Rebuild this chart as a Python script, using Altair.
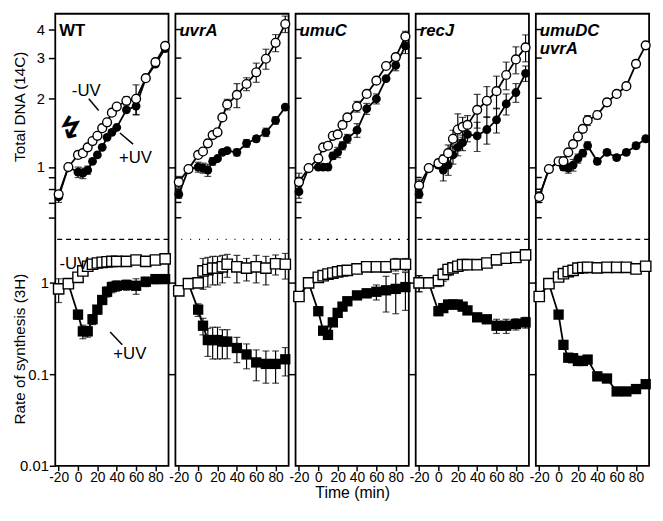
import altair as alt
import pandas as pd

FONT = "Liberation Sans"

# ---------------- data ----------------
TIMES = [-20, -10, 0, 5, 10, 15, 20, 25, 30, 35, 40, 50, 60, 70, 80, 90]
N = None

PANEL_NAMES = ["WT", "uvrA", "umuC", "recJ", "umuDC\nuvrA"]
PANEL_ITALIC = [False, True, True, True, True]

# Total DNA (14C): -UV (open circles) and +UV (filled circles), with +/- error
top_open = [
    [0.76, 1.0, 1.13, 1.15, 1.22, 1.30, 1.37, 1.48, 1.57, 1.73, 1.84, 1.95, 1.99, 2.45, 2.88, 3.39],
    [0.86, 0.98, 1.13, 1.17, 1.27, 1.38, 1.42, 1.65, 1.88, N, 2.07, 2.31, 2.60, 2.98, 3.50, 4.23],
    [0.86, 0.99, 1.09, 1.22, 1.24, 1.37, 1.39, 1.53, 1.65, N, 1.84, 2.09, 2.39, 2.77, 3.03, 3.73],
    [0.83, 0.99, 1.04, 1.08, 1.15, 1.33, 1.46, 1.50, 1.53, N, 1.78, 1.95, 2.15, 2.53, 2.96, 3.34],
    [0.74, 0.98, 1.06, 1.06, 1.16, 1.26, 1.36, 1.47, 1.60, N, 1.69, 1.92, 2.09, 2.26, 2.83, 3.41],
]
top_open_err = [
    [0, 0, 0.04, 0, 0, 0, 0, 0, 0, 0, 0, 0.08, 0.30, 0.06, 0.05, 0.05],
    [0.05, 0, 0, 0, 0, 0, 0, 0, 0.10, N, 0.25, 0.15, 0.25, 0.30, 0.30, 0.35],
    [0.08, 0, 0.04, 0, 0, 0, 0, 0.04, 0, N, 0.10, 0.05, 0, 0.05, 0.10, 0.20],
    [0.05, 0, 0.04, 0.05, 0.10, 0.12, 0.25, 0.15, 0.15, N, 0.30, 0.30, 0.35, 0.35, 0.40, 0.45],
    [0, 0, 0, 0.05, 0, 0, 0, 0, 0.08, N, 0.07, 0.06, 0, 0.05, 0.10, 0.08],
]
top_fill = [
    [0.74, 1.0, 0.95, 0.94, 0.97, 1.06, 1.13, 1.22, 1.35, 1.42, 1.49, 1.78, 1.85, 2.45, 2.82, 3.30],
    [0.76, 0.98, 1.0, 0.99, 0.97, 1.06, 1.09, 1.16, 1.18, N, 1.16, 1.27, 1.33, 1.42, 1.60, 1.83],
    [0.78, 0.99, 1.0, 1.0, 1.0, 1.12, 1.16, 1.24, 1.33, N, 1.45, 1.80, 1.99, 2.44, 2.79, 3.39],
    [0.76, 0.99, 1.02, 0.97, 1.02, 1.13, 1.22, 1.28, 1.39, N, 1.37, 1.46, 1.61, 1.89, 2.12, 2.57],
    [0.74, 0.98, 1.06, 1.0, 0.99, 1.02, 1.09, 1.15, 1.24, N, 1.06, 1.16, 1.10, 1.16, 1.24, 1.33],
]
top_fill_err = [
    [0.04, 0, 0.05, 0.05, 0.04, 0, 0, 0, 0, 0, 0, 0, 0.15, 0.05, 0.05, 0.04],
    [0.03, 0, 0.05, 0.05, 0.06, 0.04, 0, 0, 0, N, 0.04, 0.05, 0.04, 0.06, 0.06, 0.05],
    [0.05, 0, 0, 0, 0.03, 0.04, 0.06, 0.05, 0.06, N, 0.10, 0.10, 0.10, 0.05, 0.15, 0.25],
    [0.03, 0, 0.03, 0.10, 0.10, 0.10, 0.10, 0.10, 0.10, N, 0.20, 0.20, 0.20, 0.20, 0.20, 0.20],
    [0.04, 0, 0, 0.03, 0.05, 0.06, 0.05, 0.04, 0.05, N, 0.03, 0.03, 0.03, 0.03, 0.04, 0.04],
]

# Rate of synthesis (3H): -UV (open squares) and +UV (filled squares)
bot_open = [
    [0.86, 0.98, 1.15, 1.35, 1.52, 1.60, 1.65, 1.68, 1.70, 1.72, 1.72, 1.72, 1.78, 1.72, 1.78, 1.83],
    [0.82, 0.98, 1.0, 1.35, 1.40, 1.45, 1.45, 1.50, 1.60, N, 1.50, 1.45, 1.50, 1.45, 1.62, 1.60],
    [0.71, 1.0, 1.15, 1.20, 1.25, 1.28, 1.32, 1.35, 1.37, N, 1.42, 1.50, 1.50, 1.50, 1.60, 1.60],
    [1.0, 1.0, 1.06, 1.24, 1.40, 1.46, 1.52, 1.58, 1.58, N, 1.58, 1.65, 1.79, 1.86, 1.90, 2.02],
    [0.71, 0.98, 1.16, 1.26, 1.33, 1.37, 1.45, 1.47, 1.48, N, 1.46, 1.48, 1.48, 1.48, 1.42, 1.52],
]
bot_open_err = [
    [0, 0, 0.10, 0.10, 0.08, 0.05, 0, 0, 0, 0, 0, 0, 0.05, 0, 0, 0.05],
    [0, 0, 0.10, 0.50, 0.50, 0.50, 0.50, 0.50, 0.45, N, 0.50, 0.40, 0.50, 0.50, 0.40, 0.50],
    [0, 0, 0, 0, 0, 0, 0, 0, 0, N, 0, 0.10, 0.15, 0.20, 0.25, 0.25],
    [0.20, 0, 0.15, 0.20, 0.20, 0.15, 0.10, 0.10, 0.05, N, 0.05, 0.05, 0.05, 0.05, 0.05, 0.05],
    [0, 0, 0, 0, 0, 0, 0, 0, 0, N, 0, 0, 0, 0, 0.08, 0],
]
bot_fill = [
    [0.86, 0.98, 0.45, 0.295, 0.295, 0.40, 0.51, 0.65, 0.80, 0.90, 0.93, 0.95, 0.93, 1.03, 1.10, 1.10],
    [0.82, 0.98, 0.51, 0.34, 0.237, 0.237, 0.237, 0.228, 0.228, N, 0.194, 0.165, 0.135, 0.13, 0.13, 0.146],
    [0.71, 1.0, 0.49, 0.30, 0.27, 0.37, 0.47, 0.55, 0.63, N, 0.73, 0.77, 0.80, 0.83, 0.86, 0.90],
    [1.0, 1.0, 0.49, 0.53, 0.58, 0.58, 0.58, 0.55, 0.50, N, 0.42, 0.40, 0.34, 0.34, 0.355, 0.37],
    [0.71, 0.98, 0.45, 0.21, 0.152, 0.15, 0.14, 0.14, 0.145, N, 0.095, 0.09, 0.065, 0.065, 0.069, 0.078],
]
bot_fill_err = [
    [0.25, 0, 0.05, 0.05, 0.04, 0.05, 0.05, 0.05, 0.10, 0.12, 0.12, 0.12, 0.18, 0.12, 0.12, 0.10],
    [0, 0, 0.08, 0.07, 0.08, 0.09, 0.09, 0.08, 0.08, N, 0.06, 0.05, 0.05, 0.05, 0.05, 0.05],
    [0, 0, 0, 0, 0, 0, 0, 0, 0, N, 0, 0.08, 0.15, 0.35, 0.40, 0.40],
    [0.20, 0, 0.05, 0.05, 0.05, 0.04, 0.04, 0.04, 0.04, N, 0.04, 0.04, 0.06, 0.06, 0.05, 0.05],
    [0, 0, 0, 0, 0, 0, 0, 0, 0, N, 0, 0, 0, 0, 0, 0],
]

# axis ticks
X_TICKS = [-20, 0, 20, 40, 60, 80]
TOP_TICKS = [0.6, 0.7, 0.8, 0.9, 1, 2, 3, 4]
TOP_INNER_TICKS = [4, 3, 2, 0.9, 0.8, 0.7, 0.6]
BOT_TICKS = [0.01, 0.1, 1]

# annotations in the WT panel
TOP_NOTES = [(8.5, 2.15, "-UV"), (59.4, 1.10, "+UV")]
TOP_LEADERS = [(11.1, 1.99, 21.3, 1.77), (43.3, 1.41, 56.9, 1.26)]
ARROW = (-8.5, 1.46, "\u21af")
BOT_NOTES = [(-4.2, 1.62, "-UV"), (53.5, 0.168, "+UV")]
BOT_LEADERS = [(33.2, 0.29, 45.7, 0.211)]
SEP_DASH = [[5, 4], [1, 8], [2, 7], [5, 4], [5, 4]]

# ---------------- geometry ----------------
W, H, HTOP = 115, 459, 229
X_DOMAIN = [-23.5, 93.5]
TOP_DOMAIN = [0.483, 4.69]
BOT_DOMAIN = [0.01, 3.0]


def make_df(o, oe, f, fe):
    rows, caps = [], []
    for s, vals, errs in (("open", o, oe), ("filled", f, fe)):
        for t, v, e in zip(TIMES, vals, errs):
            if v is None:
                continue
            if e:
                rows.append(dict(t=t, v=v, s=s, lo=v - e, hi=v + e))
                caps.append(dict(t=t, c=v - e))
                caps.append(dict(t=t, c=v + e))
            else:
                rows.append(dict(t=t, v=v, s=s, lo=None, hi=None))
    return pd.DataFrame(rows), pd.DataFrame(caps, columns=["t", "c"])


def x_axis(i):
    return alt.Axis(values=X_TICKS, labelExpr="'' + datum.value", tickSize=5, tickWidth=1.5,
                    labelFontSize=14, labelPadding=0, domain=False, grid=False,
                    labelOverlap=False, labelFlush=False,
                    title="Time (min)" if i == 2 else None, titleFontSize=16,
                    titleFontWeight="normal", titlePadding=0)


def group(i, df, capdf, scale, axis, shape, size, extras):
    X = alt.X("t:Q", scale=alt.Scale(domain=X_DOMAIN, nice=False, zero=False), axis=x_axis(i))
    base = alt.Chart(df)
    layers = [
        base.mark_line(color="black", strokeWidth=1.8).encode(x=X, y=alt.Y("v:Q", scale=scale, axis=axis), detail="s:N"),
        base.transform_filter("datum.lo != null").mark_rule(color="black", strokeWidth=1.2).encode(
            x=X, y=alt.Y("lo:Q", scale=scale, axis=axis), y2="hi:Q"),
    ]
    if len(capdf):
        layers.append(alt.Chart(capdf).mark_tick(orient="horizontal", color="black", size=7, thickness=1.2).encode(
            x=X, y=alt.Y("c:Q", scale=scale, axis=axis)))
    layers.append(base.transform_filter("datum.s == 'filled'").mark_point(
        shape=shape, filled=True, color="black", size=size, opacity=1).encode(
        x=X, y=alt.Y("v:Q", scale=scale, axis=axis)))
    layers.append(base.transform_filter("datum.s == 'open'").mark_point(
        shape=shape, filled=True, fill="white", stroke="black", strokeWidth=1.4, size=size, opacity=1).encode(
        x=X, y=alt.Y("v:Q", scale=scale, axis=axis)))
    for mk in extras:
        layers.append(mk(X, scale, axis))
    return alt.layer(*layers)


panels = []
for i, name in enumerate(PANEL_NAMES):
    tdf, tcap = make_df(top_open[i], top_open_err[i], top_fill[i], top_fill_err[i])
    bdf, bcap = make_df(bot_open[i], bot_open_err[i], bot_fill[i], bot_fill_err[i])
    top_scale = alt.Scale(type="log", domain=TOP_DOMAIN, range=[HTOP, 0], nice=False)
    bot_scale = alt.Scale(type="log", domain=BOT_DOMAIN, range=[H, HTOP], nice=False)
    if i == 0:
        top_axis = alt.Axis(orient="left", values=TOP_TICKS, labelExpr="datum.value >= 1 ? '' + datum.value : ''",
                            tickSize=7, tickWidth=1.5, labelFontSize=15, labelPadding=4, domain=False, grid=False,
                            title="Total DNA (14C)", titleFontSize=15.5, titleFontWeight="normal",
                            titleX=-28, titleY=94)
        bot_axis = alt.Axis(orient="left", values=BOT_TICKS, labelExpr="'' + datum.value",
                            tickSize=6, tickWidth=1.5, labelFontSize=15, labelPadding=1, domain=False, grid=False,
                            title="Rate of synthesis (3H)", titleFontSize=15.5, titleFontWeight="normal",
                            titleX=-28, titleY=340)
    else:
        top_axis = alt.Axis(orient="left", values=[1], labels=False, tickSize=7, tickWidth=1.5,
                            domain=False, grid=False, title=None)
        bot_axis = alt.Axis(orient="left", values=[0.1, 1], labels=False, tickSize=7, tickWidth=1.5,
                            domain=False, grid=False, title=None)

    top_extras = []
    bot_extras = []
    # panel label
    lab_df = pd.DataFrame({"t": [-19.4], "v": [3.75], "label": [name]})
    top_extras.append(lambda X, sc, ax, d=lab_df, it=PANEL_ITALIC[i]: alt.Chart(d).mark_text(
        align="left", baseline="alphabetic", fontSize=17, fontWeight="bold",
        fontStyle="italic" if it else "normal", font=FONT, lineBreak="\n", lineHeight=18, color="black").encode(
        x=X, y=alt.Y("v:Q", scale=sc, axis=ax), text="label:N"))
    if i > 0:
        inner_df = pd.DataFrame({"v": TOP_INNER_TICKS})
        top_extras.append(lambda X, sc, ax, d=inner_df: alt.Chart(d).mark_rule(color="black", strokeWidth=1.5).encode(
            y=alt.Y("v:Q", scale=sc, axis=ax), x=alt.value(0), x2=alt.value(6)))
    if i == 0:
        tn = pd.DataFrame(TOP_NOTES, columns=["t", "v", "label"])
        tl = pd.DataFrame(TOP_LEADERS, columns=["t", "v", "t2", "v2"])
        ar = pd.DataFrame([ARROW], columns=["t", "v", "label"])
        top_extras.append(lambda X, sc, ax, d=tn: alt.Chart(d).mark_text(
            fontSize=17, font=FONT, color="black", baseline="middle").encode(
            x=X, y=alt.Y("v:Q", scale=sc, axis=ax), text="label:N"))
        top_extras.append(lambda X, sc, ax, d=tl: alt.Chart(d).mark_rule(color="black", strokeWidth=1.5).encode(
            x=X, y=alt.Y("v:Q", scale=sc, axis=ax), x2="t2:Q", y2="v2:Q"))
        top_extras.append(lambda X, sc, ax, d=ar: alt.Chart(d).mark_text(
            fontSize=30, font="DejaVu Sans", fontWeight="bold", color="black", angle=20, baseline="middle").encode(
            x=X, y=alt.Y("v:Q", scale=sc, axis=ax), text="label:N"))
        bn = pd.DataFrame(BOT_NOTES, columns=["t", "v", "label"])
        bl = pd.DataFrame(BOT_LEADERS, columns=["t", "v", "t2", "v2"])
        bot_extras.append(lambda X, sc, ax, d=bn: alt.Chart(d).mark_text(
            fontSize=17, font=FONT, color="black", baseline="middle").encode(
            x=X, y=alt.Y("v:Q", scale=sc, axis=ax), text="label:N"))
        bot_extras.append(lambda X, sc, ax, d=bl: alt.Chart(d).mark_rule(color="black", strokeWidth=1.5).encode(
            x=X, y=alt.Y("v:Q", scale=sc, axis=ax), x2="t2:Q", y2="v2:Q"))
    sep_df = pd.DataFrame({"v": [BOT_DOMAIN[1]]})
    bot_extras.append(lambda X, sc, ax, d=sep_df, dash=SEP_DASH[i]: alt.Chart(d).mark_rule(
        color="black", strokeWidth=1.3, strokeDash=dash).encode(y=alt.Y("v:Q", scale=sc, axis=ax)))

    top = group(i, tdf, tcap, top_scale, top_axis, "circle", 80, top_extras)
    bot = group(i, bdf, bcap, bot_scale, bot_axis, "square", 110, bot_extras)
    panel = alt.layer(top, bot).resolve_scale(y="independent").properties(width=W, height=H)
    panels.append(panel)

chart = alt.hconcat(*panels, spacing=7, bounds="flush").properties(
    padding={"left": 4, "top": 1, "right": 0, "bottom": 0}
).configure_view(stroke="black", strokeWidth=1.8).configure_axis(
    labelFont=FONT, titleFont=FONT, labelColor="black", titleColor="black", tickColor="black"
).configure_text(font=FONT)

chart.save("out.html", embed_options={"renderer": "svg", "actions": False})
